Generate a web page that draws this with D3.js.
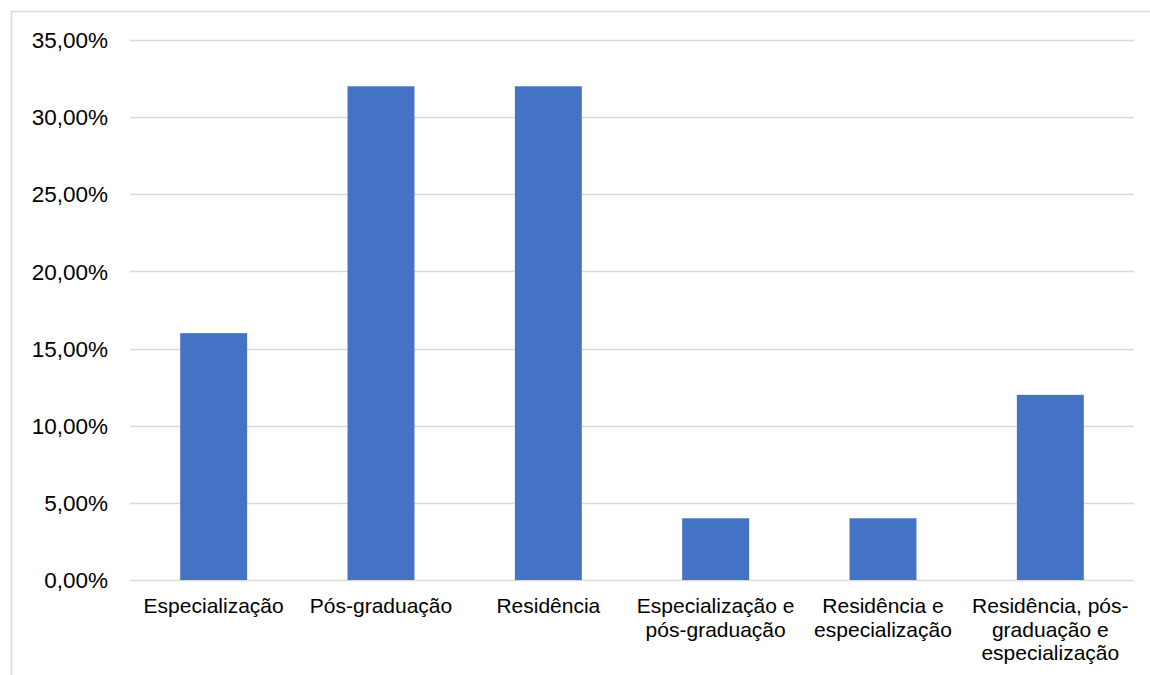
<!DOCTYPE html>
<html>
<head>
<meta charset="utf-8">
<script src="https://cdn.jsdelivr.net/npm/d3@7"></script>
<style>
  body { margin: 0; background: #fff; }
  text { font-family: "Liberation Sans", Arial, sans-serif; fill: #000; }
</style>
</head>
<body>
<div id="chart"></div>
<script>
const svgWidth = 1150;
const svgHeight = 675;

// data
const categories = [
    "Especialização",
    "Pós-graduação",
    "Residência",
    "Especialização e\npós-graduação",
    "Residência e\nespecialização",
    "Residência, pós-\ngraduação e\nespecialização"
];
const values = [16, 32, 32, 4, 4, 12];
const yTicks = [0, 5, 10, 15, 20, 25, 30, 35];

const plot = {left: 130, right: 1134, top: 40, bottom: 580};

const x = d3.scaleBand()
    .domain(categories)
    .range([plot.left, plot.right])
    .padding(0);

const y = d3.scaleLinear()
    .domain([0, 35])
    .range([plot.bottom, plot.top]);

const barW = x.bandwidth() * 0.4;

const svg = d3.select("#chart")
    .append("svg")
    .attr("width", svgWidth)
    .attr("height", svgHeight);

// chart area border (only top and left visible)
svg.append("rect")
    .attr("x", 11.5)
    .attr("y", 11.5)
    .attr("width", 1200)
    .attr("height", 700)
    .style("fill", "none")
    .style("stroke", "#d9d9d9")
    .style("stroke-width", 1.5);

// gridlines
svg.append("g")
    .selectAll("line")
    .data(yTicks)
    .join("line")
    .attr("x1", plot.left)
    .attr("x2", plot.right)
    .attr("y1", d => Math.round(y(d)) + 0.5)
    .attr("y2", d => Math.round(y(d)) + 0.5)
    .style("stroke", "#d9d9d9")
    .style("stroke-width", 1.5);

// y axis labels
svg.append("g")
    .selectAll("text")
    .data(yTicks)
    .join("text")
    .attr("x", 108)
    .attr("y", d => y(d))
    .attr("dy", "0.36em")
    .attr("text-anchor", "end")
    .attr("font-size", "22.5px")
    .text(d => d.toFixed(2).replace(".", ",") + "%");

// bars
svg.append("g")
    .selectAll("rect")
    .data(values)
    .join("rect")
    .attr("x", (d, i) => x(categories[i]) + (x.bandwidth() - barW) / 2)
    .attr("y", d => y(d))
    .attr("width", barW)
    .attr("height", d => y(0) - y(d))
    .style("fill", "#4472C4");

// category labels
const labels = svg.append("g")
    .selectAll("text")
    .data(categories)
    .join("text")
    .attr("text-anchor", "middle")
    .attr("font-size", "21px")
    .attr("y", 613);

labels.selectAll("tspan")
    .data(d => d.split("\n").map(t => ({t, c: d})))
    .join("tspan")
    .attr("x", d => x(d.c) + x.bandwidth() / 2)
    .attr("dy", (d, i) => i === 0 ? 0 : 23.5)
    .text(d => d.t);
</script>
</body>
</html>
